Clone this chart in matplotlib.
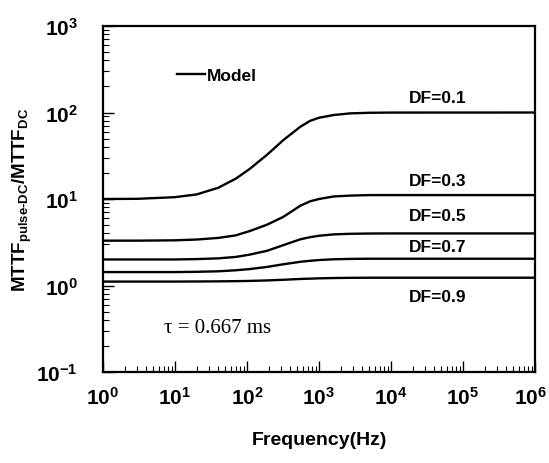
#!/usr/bin/env python3
"""MTTF ratio (pulse-DC / DC) versus pulse frequency for several duty factors."""

import math

import matplotlib
matplotlib.use("Agg")
import matplotlib.pyplot as plt
from matplotlib.ticker import LogLocator, NullFormatter, FuncFormatter
from matplotlib.transforms import ScaledTranslation

plt.rcParams["font.family"] = ["Liberation Sans", "DejaVu Sans"]
plt.rcParams["font.weight"] = "bold"
plt.rcParams["mathtext.fontset"] = "custom"
plt.rcParams["mathtext.rm"] = "Liberation Sans:bold"
plt.rcParams["mathtext.bf"] = "Liberation Sans:bold"
plt.rcParams["mathtext.it"] = "Liberation Sans:bold"
plt.rcParams["mathtext.default"] = "bf"

# frequency samples (Hz)
freq = [1, 3, 10, 20, 40, 70, 110, 190, 320, 550, 750, 1000, 1600, 2700, 5000, 1e4, 1e6]

df_01 = [10.0, 10.05, 10.5, 11.3, 13.5, 17.2, 22.4, 32.5, 48.0, 68.4, 80.0, 87.0, 93.5, 97.7, 99.3, 99.8, 100.0]
df_03 = [3.3, 3.3, 3.33, 3.4, 3.55, 3.8, 4.27, 5.05, 6.22, 8.36, 9.4, 10.0, 10.7, 10.95, 11.1, 11.1, 11.1]
df_05 = [2.0, 2.0, 2.0, 2.02, 2.06, 2.14, 2.28, 2.52, 2.93, 3.42, 3.62, 3.76, 3.9, 3.96, 3.99, 4.0, 4.0]
df_07 = [1.43, 1.43, 1.43, 1.44, 1.46, 1.5, 1.55, 1.64, 1.76, 1.88, 1.93, 1.97, 2.01, 2.03, 2.04, 2.04, 2.04]
df_09 = [1.11, 1.11, 1.11, 1.113, 1.117, 1.123, 1.13, 1.145, 1.165, 1.19, 1.2, 1.21, 1.22, 1.227, 1.23, 1.23, 1.23]

series = [df_01, df_03, df_05, df_07, df_09]
labels = ["DF=0.1", "DF=0.3", "DF=0.5", "DF=0.7", "DF=0.9"]
label_y = [150, 16.3, 6.4, 2.86, 0.74]


def main():
    fig = plt.figure(figsize=(5.49, 4.64), dpi=100)
    ax = fig.add_axes([0.1876, 0.1961, 0.7869, 0.7457])

    for i, ys in enumerate(series):
        ax.plot(freq, ys, color="black", linewidth=1.7,
                label="Model" if i == 0 else None)
        ax.text(4.4e4, label_y[i], labels[i], ha="center", va="center",
                fontsize=12.5, fontweight="bold")

    ax.set_xscale("log")
    ax.set_yscale("log")
    ax.set_xlim(1, 1e6)
    ax.set_ylim(0.1, 1000)

    fmt = FuncFormatter(lambda v, p: r"$\mathbf{10^{%d}}$" % round(math.log10(v)))
    ax.xaxis.set_major_locator(LogLocator(base=10, numticks=10))
    ax.yaxis.set_major_locator(LogLocator(base=10, numticks=10))
    ax.xaxis.set_minor_locator(LogLocator(base=10, subs=range(2, 10), numticks=20))
    ax.yaxis.set_minor_locator(LogLocator(base=10, subs=range(2, 10), numticks=20))
    ax.xaxis.set_minor_formatter(NullFormatter())
    ax.yaxis.set_minor_formatter(NullFormatter())
    ax.xaxis.set_major_formatter(fmt)
    ax.yaxis.set_major_formatter(fmt)

    ax.tick_params(which="both", direction="in", top=False, right=False)
    ax.tick_params(which="major", length=8, width=1, labelsize=15)
    ax.tick_params(which="minor", length=4, width=0.8)
    ax.tick_params(axis="y", which="major", pad=18)
    ax.tick_params(axis="x", which="major", pad=10)
    for s in ax.spines.values():
        s.set_linewidth(1.6)

    ax.set_xlabel("Frequency(Hz)", fontsize=14, fontweight="bold", labelpad=17)
    ax.set_ylabel(r"$\mathbf{MTTF_{\text{pulse-DC}}/MTTF_{DC}}$", fontsize=13.5, labelpad=2)

    ax.text(7.0, 0.33, r"τ = 0.667 ms", family="Liberation Serif",
            fontweight="normal", fontsize=15, va="center")

    ax.legend(loc="upper left", bbox_to_anchor=(0.135, 0.925), frameon=False,
              handlelength=1.6, handletextpad=0.15, fontsize=12.5)

    # nudge the last x label in a little so it stays inside the figure
    fig.canvas.draw()
    for tick in ax.xaxis.get_major_ticks():
        if abs(tick.get_loc() - 1e6) < 1:
            lbl = tick.label1
            lbl.set_transform(lbl.get_transform()
                              + ScaledTranslation(-3 / 72, 0, fig.dpi_scale_trans))

    fig.savefig("out.png", dpi=100)


if __name__ == "__main__":
    main()
